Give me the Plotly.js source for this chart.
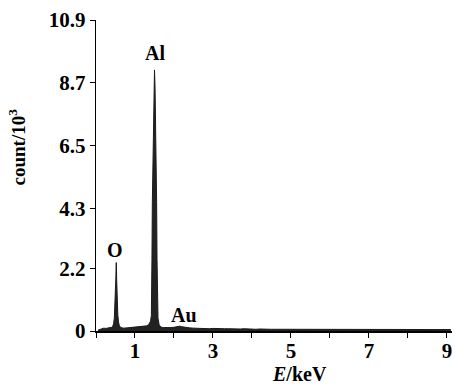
<!DOCTYPE html>
<html>
<head>
<meta charset="utf-8">
<script src="https://cdn.plot.ly/plotly-3.0.1.min.js"></script>
<style>html,body{margin:0;padding:0;background:#fff;}#chart{width:455px;height:386px;}</style>
</head>
<body>
<div id="chart"></div>
<script>
// Energy (keV)
const energy = [
  0.05,0.10,0.15,0.20,0.25,0.30,0.35,0.40,0.43,0.45,0.47,0.48,0.49,0.50,0.51,0.515,0.52,0.525,0.53,0.54,0.55,0.56,0.58,0.60,0.64,
  0.70,0.80,0.90,1.00,1.10,1.20,1.30,1.35,1.40,1.42,1.43,1.435,1.445,1.46,1.47,1.485,1.50,1.515,1.53,1.54,1.555,1.565,1.575,1.59,
  1.62,1.66,1.72,1.80,1.90,2.00,2.10,2.15,2.20,2.30,2.40,2.50,2.60,2.70,2.80,2.90,3.00,3.10,3.20,3.30,3.40,
  3.50,3.60,3.70,3.80,3.90,4.00,4.10,4.20,4.30,4.40,4.50,4.60,4.70,4.80,4.90,5.00,5.10,5.20,5.30,5.40,5.50,5.60,
  5.70,5.80,5.90,6.00,6.10,6.20,6.30,6.40,6.50,6.60,6.70,6.80,6.90,7.00,7.10,7.20,7.30,7.40,7.50,7.60,7.70,7.80,
  7.90,8.00,8.10,8.20,8.30,8.40,8.50,8.60,8.70,8.80,8.90,9.00,9.10
];
// Counts (x10^3)
const counts = [
  0.03,0.05,0.08,0.10,0.09,0.10,0.11,0.13,0.17,0.25,0.45,0.70,1.00,1.40,1.90,2.25,2.40,2.20,1.80,1.25,0.85,0.55,0.30,0.18,0.12,
  0.10,0.11,0.12,0.13,0.14,0.16,0.18,0.22,0.35,0.55,1.20,2.50,4.50,6.20,7.50,8.70,9.15,8.50,7.40,6.00,4.50,2.50,1.00,0.45,
  0.22,0.14,0.12,0.11,0.12,0.13,0.16,0.17,0.15,0.12,0.11,0.10,0.09,0.10,0.09,0.08,0.09,0.08,0.09,0.08,0.08,
  0.07,0.08,0.07,0.08,0.07,0.07,0.06,0.07,0.06,0.07,0.06,0.06,0.07,0.06,0.06,0.06,0.05,0.06,0.06,0.05,0.06,0.05,
  0.06,0.05,0.05,0.06,0.05,0.05,0.06,0.05,0.05,0.05,0.06,0.05,0.05,0.05,0.05,0.05,0.05,0.06,0.05,0.05,0.05,0.05,
  0.05,0.05,0.05,0.05,0.05,0.06,0.05,0.05,0.05,0.05,0.05,0.05,0.05
];
const peakLabels = ["Al", "O", "Au"];
const peakX = [1.51, 0.49, 2.26];
const peakY = [9.75, 2.84, 0.56];
const yTickVals = [0, 2.2, 4.3, 6.5, 8.7, 10.9];
const yTickText = ["0", "2.2", "4.3", "6.5", "8.7", "10.9"];
const xTickVals = [1, 3, 5, 7, 9];
const xTickText = ["1", "3", "5", "7", "9"];

const FONT = "Liberation Serif, Times New Roman, serif";

const trace = {
  x: energy, y: counts, type: "scatter", mode: "lines",
  line: {color: "#1a1a1a", width: 1},
  fill: "tozeroy", fillcolor: "#222222",
  hoverinfo: "skip"
};

const annotations = peakLabels.map((t, i) => ({
  x: peakX[i], y: peakY[i], xref: "x", yref: "y", text: "<b>" + t + "</b>",
  showarrow: false, font: {family: FONT, size: 20, color: "#000"}
}));
annotations.push({
  xref: "paper", yref: "paper", x: 0.573, y: 0, yshift: -43, yanchor: "middle", xanchor: "center",
  text: "<b><i>E</i>/keV</b>", showarrow: false, font: {family: FONT, size: 20, color: "#000"}
});
annotations.push({
  xref: "paper", yref: "paper", x: 0, xshift: -79, y: 0.59, textangle: -90,
  xanchor: "center", yanchor: "middle",
  text: "<b>count/10<sup>3</sup></b>", showarrow: false, font: {family: FONT, size: 19, color: "#000"}
});

const layout = {
  width: 455, height: 386,
  margin: {l: 96, r: 3, t: 20, b: 55, pad: 0},
  paper_bgcolor: "#fff", plot_bgcolor: "#fff",
  showlegend: false,
  font: {family: FONT, color: "#000"},
  xaxis: {
    range: [0, 9.13], showgrid: false, zeroline: false,
    showline: true, linecolor: "#000", linewidth: 2,
    ticks: "",
    tickmode: "array", tickvals: xTickVals, ticktext: xTickText,
    minor: {tickmode: "linear", tick0: 0, dtick: 1, ticks: "outside", ticklen: 5, tickwidth: 1, tickcolor: "#000", showgrid: false},
    tickfont: {family: FONT, size: 21, color: "#000", weight: "bold"}
  },
  yaxis: {
    range: [0, 10.9], showgrid: false, zeroline: false,
    showline: true, linecolor: "#000", linewidth: 1.2,
    ticks: "outside", ticklen: 5, tickwidth: 1, tickcolor: "#000",
    tickmode: "array", tickvals: yTickVals, ticktext: yTickText,
    tickfont: {family: FONT, size: 21, color: "#000", weight: "bold"}
  },
  annotations: annotations
};

Plotly.newPlot("chart", [trace], layout, {staticPlot: true, displayModeBar: false});
</script>
</body>
</html>
